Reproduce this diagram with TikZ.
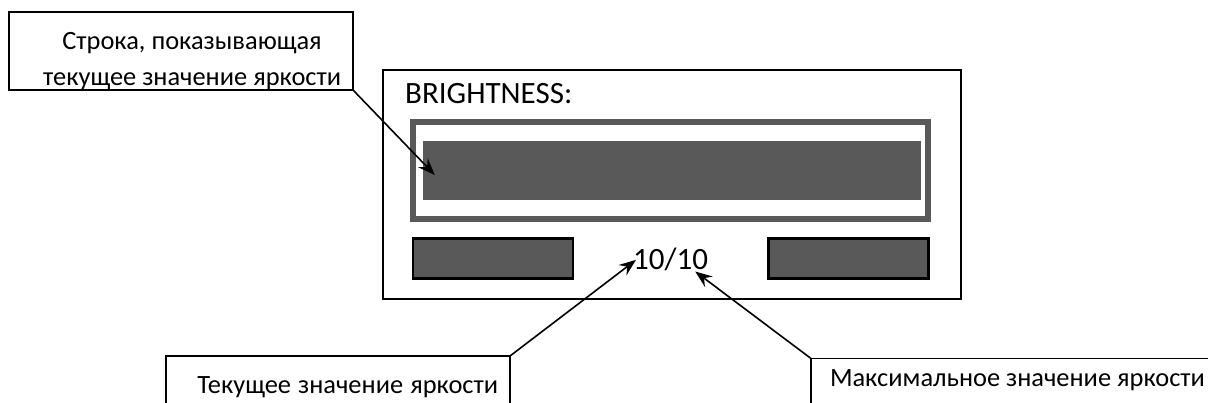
\documentclass[tikz,border=0pt]{standalone}
\usepackage{fontspec}
\setmainfont{Carlito}
\usetikzlibrary{arrows.meta, positioning}
\definecolor{screengray}{RGB}{89,89,89}
\newcommand\tightspaces{\spaceskip=0pt\relax\xspaceskip=0pt\relax}

\begin{document}
\begin{tikzpicture}[
    x=1pt, y=-1pt,
    callout/.style={
        rectangle,
        draw,
        line width=1.4pt,
        outer sep=0pt,
        inner xsep=12pt,
        inner ysep=0pt,
        align=right,
        font=\fontsize{26.4}{34}\selectfont,
        execute at begin node=\tightspaces
    },
    slider/.style={
        rectangle,
        draw,
        line width=2.5pt,
        fill=screengray,
        minimum width=160pt,
        minimum height=40pt
    },
    lbl/.style={inner sep=0pt, font=\fontsize{31}{37}\selectfont},
    arrow/.style={-{Stealth[length=17pt,width=13pt,inset=6pt]}, line width=1.6pt}
]
\useasboundingbox (0,0) rectangle (1208,403);
\clip (0,0) rectangle (1208,403);

\node[rectangle, draw, line width=2.2pt, minimum width=578pt, minimum height=229pt] (panel) at (672,184.5) {};
\node[lbl, anchor=base west] (title) at (405,104) {BRIGHTNESS:};
\node[rectangle, draw=screengray, line width=6pt, minimum width=515pt, minimum height=97pt] (bar) at (670.5,170.5) {};
\node[rectangle, fill=screengray, minimum width=498pt, minimum height=59pt] (level) at (672,170.5) {};
\node[slider] (minus) at (493,258.5) {};
\node[slider] (plus) at (848.5,258.5) {};
\node[lbl, anchor=base west] (value) at (633,270) {10/10};

\node[callout, text width=320pt, text height=38pt, text depth=40pt] (cap1) at (181,51)
    {\begin{tabular}[t]{@{}c@{}}Строка, показывающая\\[1.5pt]текущее значение яркости\end{tabular}};
\node[callout, text width=320pt, inner ysep=14pt, text height=23pt, text depth=1pt] (cap2) at (338,382)
    {Текущее значение яркости};
\node[callout, anchor=north west, align=left, inner xsep=19pt, inner ysep=10pt, text width=400pt, text height=18.5pt, text depth=15pt] (cap3) at (811,358.5)
    {Максимальное значение яркости};

\draw[arrow] (cap1.south east) -- ([xshift=12pt,yshift=-4.5pt]level.west);
\draw[arrow] (cap2.north east) -- ([xshift=3pt]value.west);
\draw[arrow] (cap3.north west) -- ([xshift=-13pt]value.south east);

\end{tikzpicture}
\end{document}
